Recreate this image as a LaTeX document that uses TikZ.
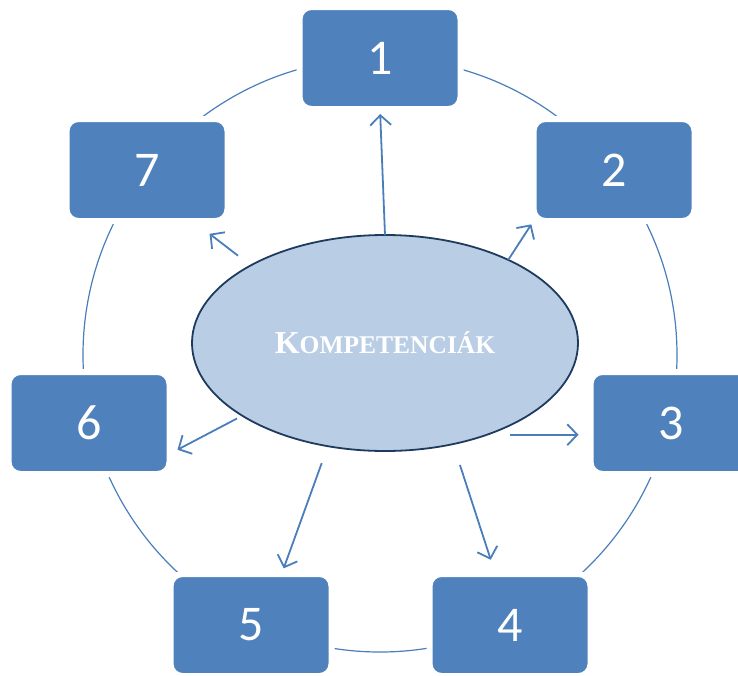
\documentclass[tikz,border=0pt]{standalone}
\usepackage{fontspec}
\setmainfont{Liberation Serif}
\newfontfamily\numfont{Carlito}
\usetikzlibrary{arrows.meta}
\usetikzlibrary{shapes.geometric}
\definecolor{boxblue}{HTML}{4F81BD}
\definecolor{lineblue}{HTML}{4A7EBB}
\definecolor{ovalfill}{HTML}{B9CDE5}
\definecolor{ovaldraw}{HTML}{1F3A5F}
\begin{document}
\begin{tikzpicture}[x=1pt, y=-1pt,
    box/.style={rectangle, rounded corners=12pt, fill=boxblue, draw=white, line width=6pt, outer sep=0pt,
      minimum width=161pt, minimum height=102pt, inner sep=0pt, text=white, font=\numfont\fontsize{50}{50}\selectfont},
    arr/.style={draw=lineblue, line width=1.8pt, -{Straight Barb[length=10pt, width=21pt]}}]
    \useasboundingbox (0,0) rectangle (738,675);

    % ring behind the boxes
    \node[circle, draw=lineblue, line width=1.2pt, minimum size=594pt, inner sep=0pt] (ring) at (380,355) {};

    \node[box] (n1) at (380,58) {1};
    \node[box] (n2) at (614,170) {2};
    \node[box] (n3) at (671,423) {3};
    \node[box] (n4) at (510,625) {4};
    \node[box] (n5) at (251,625) {5};
    \node[box] (n6) at (89,423) {6};
    \node[box] (n7) at (147,170) {7};

    \node[ellipse, fill=ovalfill, draw=ovaldraw, line width=1.8pt, outer sep=0pt, inner sep=0pt,
      minimum width=386pt, minimum height=216pt, text=white] (k) at (385,343)
      {\bfseries\fontsize{32}{32}\selectfont K\fontsize{25.5}{25.5}\selectfont OMPETENCIÁK};

    \draw[arr, shorten >=5pt] (k.90) -- (n1.south);
    \draw[arr, shorten >=4pt] (k.34) -- (n2.south west);
    \draw[arr, shorten <=23pt, shorten >=12pt] (k.-42) -- (k.-42 -| n3.west);
    \draw[arr, shorten <=22pt, shorten >=15pt] (k.-56) -- (n4.106);
    \draw[arr, shorten <=18pt, shorten >=6pt] (k.-119) -- (n5.59);
    \draw[arr, shorten <=6pt, shorten >=9pt] (k.-153) -- (n6.-21);
    \draw[arr, shorten <=16pt, shorten >=21pt] (k.150) -- (n7.-48);
\end{tikzpicture}
\end{document}
